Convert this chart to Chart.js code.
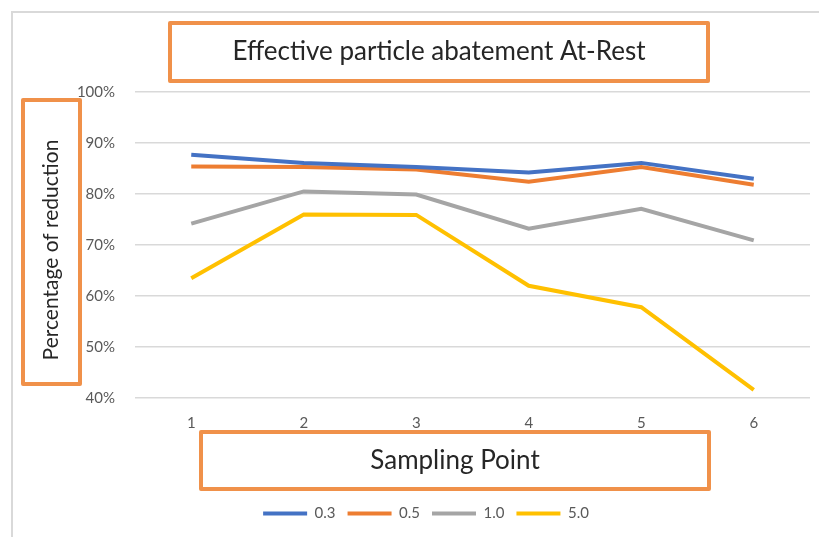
<!doctype html>
<html lang="en">
<head>
    <meta charset="UTF-8">
    <title>Effective particle abatement At-Rest</title>
    <script src="https://cdn.jsdelivr.net/npm/chart.js"></script>
    <style>
        html, body { margin: 0; padding: 0; background: #fff; }
        #wrap { width: 819px; height: 537px; }
    </style>
</head>
<body>

<div id="wrap"><canvas id="abatementChart"></canvas></div>

<script>
    // sampling points on the x axis
    const samplingPoints = ['1', '2', '3', '4', '5', '6'];

    // particle sizes (legend)
    const sizeLabels = ['0.3', '0.5', '1.0', '5.0'];

    // percentage of reduction per sampling point
    const red03 = [87.7, 86.1, 85.3, 84.2, 86.1, 83.0];
    const red05 = [85.4, 85.3, 84.8, 82.4, 85.3, 81.8];
    const red10 = [74.2, 80.5, 79.9, 73.2, 77.1, 70.9];
    const red50 = [63.5, 76.0, 75.9, 62.0, 57.8, 41.6];

    const yTicks = [40, 50, 60, 70, 80, 90, 100];

    const colors = ['#4472C4', '#ED7D31', '#A5A5A5', '#FFC000'];
    const boxOrange = '#F0914A';
    const textGray = '#595959';
    const fontFam = 'Lato, "Open Sans", sans-serif';

    const seriesValues = [red03, red05, red10, red50];

    // orange framed labels (title and axis titles), drawn on the canvas
    const framedLabels = {
        id: 'framedLabels',
        beforeDraw(chart) {
            const ctx = chart.ctx;
            ctx.save();
            ctx.fillStyle = '#fff';
            ctx.fillRect(0, 0, chart.width, chart.height);
            // outer chart frame
            ctx.strokeStyle = '#D9D9D9';
            ctx.lineWidth = 2;
            ctx.beginPath();
            ctx.moveTo(chart.width, 12);
            ctx.lineTo(12, 12);
            ctx.lineTo(12, chart.height);
            ctx.stroke();
            ctx.restore();
        },
        afterDraw(chart) {
            const ctx = chart.ctx;
            const boxes = [
                {text: 'Effective particle abatement At-Rest', x: 170, y: 23, w: 538, h: 58, size: 26, rot: 0, shift: 0},
                {text: 'Percentage of reduction', x: 23, y: 100, w: 57, h: 284, size: 21, rot: -Math.PI / 2, shift: 8},
                {text: 'Sampling Point', x: 201, y: 432, w: 508, h: 57, size: 26, rot: 0, shift: 0}
            ];
            ctx.save();
            boxes.forEach(b => {
                ctx.strokeStyle = boxOrange;
                ctx.lineWidth = 4;
                ctx.lineJoin = 'round';
                ctx.strokeRect(b.x, b.y, b.w, b.h);
                ctx.save();
                ctx.translate(b.x + b.w / 2, b.y + b.h / 2 + b.shift);
                ctx.rotate(b.rot);
                ctx.fillStyle = '#262626';
                ctx.font = b.size + 'px ' + fontFam;
                ctx.textAlign = 'center';
                ctx.textBaseline = 'middle';
                ctx.fillText(b.text, 0, 0);
                ctx.restore();
            });
            ctx.restore();
        }
    };

    const ctx = document.getElementById('abatementChart').getContext('2d');
    new Chart(ctx, {
        type: 'line',
        data: {
            labels: samplingPoints,
            datasets: sizeLabels.map((lbl, i) => ({
                label: lbl,
                data: seriesValues[i],
                borderColor: colors[i],
                backgroundColor: colors[i],
                borderWidth: 4,
                pointRadius: 0,
                tension: 0,
                fill: false
            }))
        },
        options: {
            responsive: true,
            maintainAspectRatio: false,
            animation: false,
            layout: {
                padding: {top: 92, right: 9, left: 42, bottom: 6}
            },
            scales: {
                x: {
                    offset: true,
                    grid: {display: false},
                    border: {display: false},
                    ticks: {color: textGray, font: {family: fontFam, size: 15}, padding: 8},
                    afterFit(scale) { scale.height = 96; }
                },
                y: {
                    min: 40,
                    max: 100,
                    afterBuildTicks(scale) { scale.ticks = yTicks.map(v => ({value: v})); },
                    grid: {color: '#D9D9D9', lineWidth: 1.5, drawTicks: false},
                    border: {display: false},
                    ticks: {
                        color: textGray,
                        font: {family: fontFam, size: 15},
                        padding: 20,
                        callback: v => v + '%'
                    },
                    afterFit(scale) { scale.width = 93; }
                }
            },
            plugins: {
                title: {display: false},
                tooltip: {enabled: false},
                legend: {
                    position: 'bottom',
                    labels: {
                        usePointStyle: true,
                        pointStyle: 'line',
                        pointStyleWidth: 44,
                        boxHeight: 15,
                        color: textGray,
                        font: {family: fontFam, size: 15},
                        padding: 12
                    }
                }
            }
        },
        plugins: [framedLabels]
    });
</script>

</body>
</html>
